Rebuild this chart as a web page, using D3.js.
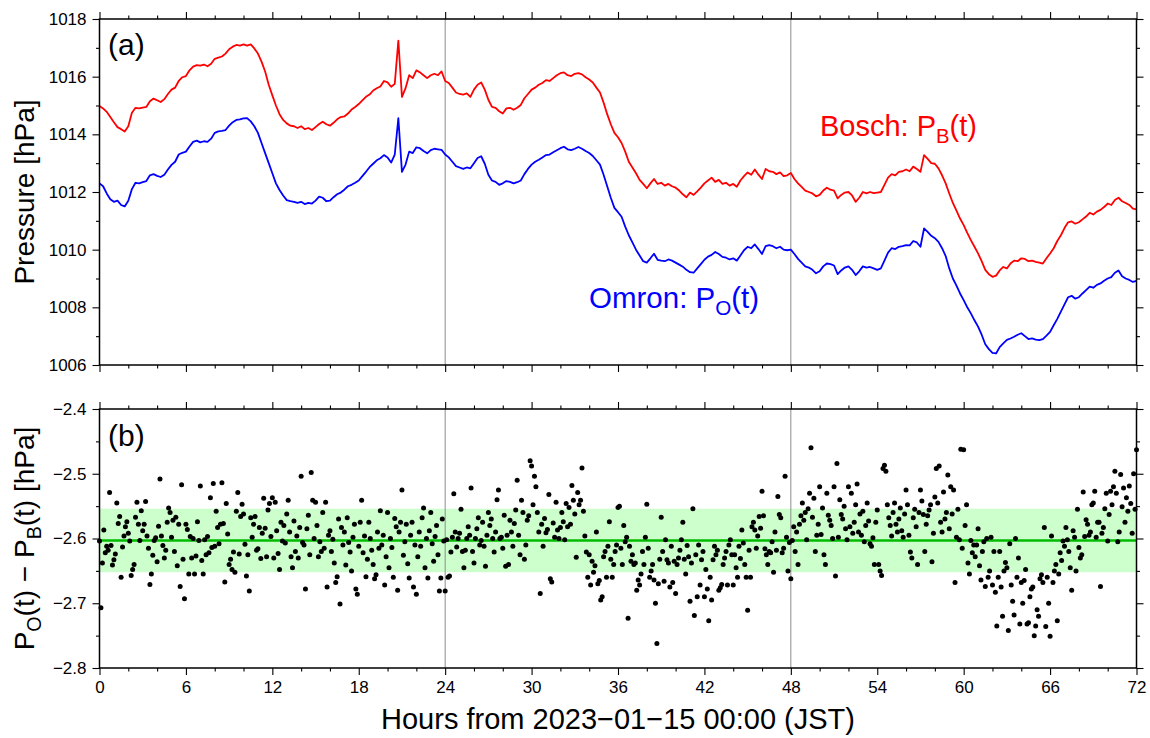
<!DOCTYPE html>
<html><head><meta charset="utf-8">
<script src="https://cdn.jsdelivr.net/npm/d3@7"></script>
<style>
html,body{margin:0;padding:0;background:#fff;}
svg{display:block;font-family:"Liberation Sans",Arial,Helvetica,sans-serif;}
</style></head><body>
<svg id="chart" width="1150" height="738"></svg>
<script>
// ---------------- DATA ----------------
const lineStepHours = 0.25;   // sampling interval of the pressure curves
const diffStepHours = 0.1;    // sampling interval of the difference points

const boschPressure = [
1014.98,1014.90,1014.78,1014.60,1014.42,1014.25,1014.18,1014.10,
1014.28,1014.75,1014.92,1014.90,1014.93,1014.95,1015.15,1015.24,
1015.18,1015.12,1015.22,1015.40,1015.55,1015.62,1015.85,1015.98,
1016.02,1016.22,1016.35,1016.40,1016.38,1016.42,1016.36,1016.45,
1016.62,1016.66,1016.70,1016.80,1016.95,1017.04,1017.10,1017.08,
1017.12,1017.08,1017.12,1016.98,1016.80,1016.52,1016.18,1015.72,
1015.35,1015.00,1014.70,1014.50,1014.38,1014.30,1014.28,1014.22,
1014.28,1014.18,1014.22,1014.15,1014.25,1014.36,1014.44,1014.35,
1014.30,1014.40,1014.52,1014.60,1014.62,1014.72,1014.86,1014.95,
1015.05,1015.18,1015.30,1015.38,1015.52,1015.60,1015.66,1015.85,
1015.80,1015.65,1015.75,1017.25,1015.30,1015.60,1016.05,1015.95,
1016.22,1016.15,1016.05,1015.95,1016.05,1016.10,1016.05,1016.18,
1015.85,1015.78,1015.62,1015.45,1015.40,1015.38,1015.42,1015.30,
1015.55,1015.72,1015.80,1015.55,1015.20,1014.95,1014.92,1014.80,
1014.72,1014.90,1014.92,1014.85,1014.92,1015.02,1015.25,1015.40,
1015.55,1015.62,1015.72,1015.78,1015.88,1015.85,1015.95,1016.05,
1016.12,1016.15,1016.05,1016.02,1016.10,1016.12,1016.08,1015.98,
1015.90,1015.80,1015.62,1015.45,1015.10,1014.70,1014.35,1014.05,
1013.90,1013.70,1013.40,1013.05,1012.85,1012.65,1012.42,1012.28,
1012.13,1012.30,1012.45,1012.28,1012.32,1012.22,1012.28,1012.20,
1012.15,1012.05,1011.92,1011.82,1011.98,1011.90,1012.02,1012.15,
1012.30,1012.40,1012.50,1012.35,1012.42,1012.28,1012.32,1012.22,
1012.28,1012.18,1012.40,1012.55,1012.68,1012.60,1012.78,1012.60,
1012.45,1012.80,1012.72,1012.70,1012.62,1012.68,1012.55,1012.58,
1012.66,1012.45,1012.30,1012.18,1012.05,1012.00,1011.95,1011.85,
1011.90,1012.05,1012.15,1012.08,1012.05,1011.78,1011.90,1011.98,
1012.00,1011.88,1011.66,1011.80,1012.00,1011.95,1012.00,1011.96,
1011.98,1012.00,1012.25,1012.50,1012.62,1012.58,1012.70,1012.72,
1012.78,1012.72,1012.88,1012.80,1012.70,1013.28,1013.15,1013.00,
1012.98,1012.82,1012.58,1012.30,1011.95,1011.62,1011.35,1011.08,
1010.85,1010.58,1010.33,1010.10,1009.87,1009.60,1009.30,1009.15,
1009.06,1009.10,1009.28,1009.40,1009.35,1009.52,1009.62,1009.60,
1009.70,1009.68,1009.60,1009.62,1009.58,1009.55,1009.52,1009.70,
1009.87,1010.05,1010.30,1010.50,1010.75,1010.95,1010.98,1010.90,
1010.95,1011.05,1011.15,1011.28,1011.22,1011.32,1011.38,1011.48,
1011.60,1011.55,1011.72,1011.80,1011.68,1011.62,1011.55,1011.42,
1011.40
];

const omronPressure = [
1012.30,1012.20,1011.95,1011.75,1011.66,1011.70,1011.55,1011.50,
1011.70,1012.10,1012.32,1012.30,1012.34,1012.38,1012.58,1012.62,
1012.56,1012.52,1012.60,1012.78,1012.94,1013.05,1013.30,1013.36,
1013.40,1013.58,1013.74,1013.78,1013.72,1013.76,1013.74,1013.85,
1014.05,1014.10,1014.12,1014.15,1014.30,1014.42,1014.50,1014.52,
1014.55,1014.56,1014.45,1014.28,1014.05,1013.70,1013.35,1013.00,
1012.65,1012.30,1012.07,1011.88,1011.72,1011.68,1011.66,1011.62,
1011.66,1011.58,1011.62,1011.60,1011.70,1011.84,1011.80,1011.68,
1011.70,1011.82,1011.92,1011.98,1012.08,1012.20,1012.25,1012.32,
1012.40,1012.55,1012.70,1012.86,1012.98,1013.10,1013.17,1013.28,
1013.20,1013.02,1013.30,1014.56,1012.70,1012.95,1013.40,1013.35,
1013.55,1013.52,1013.42,1013.34,1013.45,1013.50,1013.48,1013.46,
1013.30,1013.20,1013.05,1012.90,1012.85,1012.80,1012.85,1012.82,
1013.00,1013.18,1013.24,1012.98,1012.60,1012.40,1012.35,1012.25,
1012.30,1012.38,1012.35,1012.30,1012.34,1012.40,1012.62,1012.80,
1012.95,1013.05,1013.12,1013.20,1013.28,1013.30,1013.38,1013.45,
1013.52,1013.57,1013.48,1013.45,1013.50,1013.56,1013.50,1013.42,
1013.35,1013.25,1013.10,1012.95,1012.60,1012.20,1011.80,1011.45,
1011.30,1011.14,1010.80,1010.50,1010.25,1010.00,1009.80,1009.60,
1009.55,1009.70,1009.86,1009.65,1009.62,1009.60,1009.66,1009.62,
1009.55,1009.48,1009.41,1009.30,1009.22,1009.20,1009.35,1009.50,
1009.65,1009.76,1009.82,1009.92,1009.85,1009.75,1009.72,1009.66,
1009.70,1009.62,1009.80,1009.98,1010.10,1010.05,1010.18,1010.02,
1009.85,1010.12,1010.16,1010.12,1010.05,1010.10,1010.00,1009.98,
1010.00,1009.85,1009.68,1009.55,1009.42,1009.38,1009.30,1009.18,
1009.25,1009.42,1009.52,1009.50,1009.45,1009.15,1009.28,1009.38,
1009.42,1009.30,1009.12,1009.25,1009.42,1009.38,1009.40,1009.35,
1009.30,1009.35,1009.62,1009.90,1010.05,1010.02,1010.10,1010.12,
1010.16,1010.15,1010.30,1010.25,1010.10,1010.74,1010.62,1010.48,
1010.40,1010.27,1010.05,1009.78,1009.35,1009.00,1008.75,1008.48,
1008.25,1008.00,1007.79,1007.55,1007.33,1007.05,1006.72,1006.55,
1006.42,1006.40,1006.62,1006.75,1006.87,1006.92,1006.98,1007.05,
1007.10,1007.00,1006.90,1006.92,1006.88,1006.86,1006.90,1007.02,
1007.15,1007.38,1007.60,1007.85,1008.10,1008.35,1008.40,1008.30,
1008.35,1008.48,1008.60,1008.72,1008.68,1008.78,1008.83,1008.92,
1009.00,1009.05,1009.20,1009.28,1009.08,1009.00,1008.95,1008.88,
1008.92
];

const pressureDiff = [
-2.604,-2.707,-2.638,-2.587,-2.622,-2.612,-2.618,-2.529,-2.611,-2.641,
-2.633,-2.624,-2.545,-2.577,-2.566,-2.660,-2.613,-2.596,-2.582,-2.574,
-2.592,-2.604,-2.657,-2.648,-2.640,-2.567,-2.544,-2.578,-2.603,-2.557,
-2.588,-2.578,-2.543,-2.596,-2.615,-2.671,-2.655,-2.626,-2.603,-2.599,
-2.636,-2.581,-2.508,-2.596,-2.611,-2.630,-2.618,-2.575,-2.553,-2.560,
-2.598,-2.572,-2.620,-2.567,-2.642,-2.578,-2.674,-2.517,-2.632,-2.693,
-2.578,-2.586,-2.655,-2.597,-2.630,-2.600,-2.655,-2.627,-2.574,-2.603,
-2.519,-2.634,-2.655,-2.602,-2.625,-2.597,-2.622,-2.537,-2.614,-2.515,
-2.612,-2.558,-2.583,-2.608,-2.578,-2.514,-2.577,-2.667,-2.546,-2.593,
-2.640,-2.632,-2.648,-2.621,-2.652,-2.558,-2.529,-2.624,-2.566,-2.547,
-2.562,-2.609,-2.658,-2.625,-2.681,-2.568,-2.598,-2.578,-2.566,-2.618,
-2.616,-2.583,-2.631,-2.592,-2.538,-2.584,-2.628,-2.556,-2.546,-2.597,
-2.537,-2.630,-2.544,-2.588,-2.623,-2.648,-2.575,-2.604,-2.580,-2.607,
-2.562,-2.541,-2.590,-2.628,-2.645,-2.573,-2.620,-2.596,-2.630,-2.583,
-2.504,-2.606,-2.610,-2.678,-2.585,-2.564,-2.625,-2.498,-2.541,-2.600,
-2.544,-2.580,-2.628,-2.605,-2.620,-2.560,-2.615,-2.544,-2.675,-2.595,
-2.588,-2.620,-2.601,-2.638,-2.668,-2.659,-2.570,-2.701,-2.583,-2.610,
-2.590,-2.641,-2.568,-2.606,-2.621,-2.650,-2.598,-2.578,-2.678,-2.686,
-2.612,-2.575,-2.541,-2.622,-2.596,-2.659,-2.632,-2.575,-2.600,-2.618,
-2.640,-2.662,-2.656,-2.590,-2.615,-2.557,-2.610,-2.595,-2.672,-2.628,
-2.560,-2.645,-2.600,-2.614,-2.660,-2.569,-2.582,-2.680,-2.590,-2.575,
-2.525,-2.626,-2.605,-2.578,-2.639,-2.661,-2.595,-2.575,-2.675,-2.610,
-2.686,-2.628,-2.590,-2.612,-2.568,-2.553,-2.645,-2.600,-2.661,-2.588,
-2.560,-2.608,-2.635,-2.597,-2.580,-2.625,-2.681,-2.661,-2.570,-2.604,
-2.681,-2.602,-2.660,-2.658,-2.621,-2.598,-2.531,-2.590,-2.613,-2.600,
-2.592,-2.555,-2.620,-2.645,-2.618,-2.600,-2.582,-2.595,-2.522,-2.620,
-2.638,-2.600,-2.585,-2.568,-2.610,-2.603,-2.575,-2.612,-2.643,-2.595,
-2.560,-2.580,-2.570,-2.600,-2.621,-2.590,-2.540,-2.525,-2.600,-2.598,
-2.615,-2.564,-2.643,-2.595,-2.640,-2.572,-2.590,-2.612,-2.577,-2.556,
-2.510,-2.595,-2.625,-2.541,-2.560,-2.632,-2.610,-2.572,-2.565,-2.480,
-2.488,-2.548,-2.504,-2.520,-2.560,-2.590,-2.685,-2.578,-2.612,-2.569,
-2.591,-2.586,-2.532,-2.662,-2.667,-2.576,-2.598,-2.544,-2.587,-2.600,
-2.583,-2.560,-2.574,-2.602,-2.546,-2.582,-2.552,-2.578,-2.518,-2.541,
-2.562,-2.629,-2.529,-2.548,-2.541,-2.491,-2.558,-2.596,-2.621,-2.660,
-2.625,-2.672,-2.635,-2.652,-2.642,-2.590,-2.670,-2.665,-2.695,-2.690,
-2.628,-2.620,-2.660,-2.612,-2.574,-2.632,-2.660,-2.640,-2.620,-2.610,
-2.552,-2.550,-2.615,-2.640,-2.580,-2.605,-2.598,-2.723,-2.612,-2.635,
-2.625,-2.640,-2.638,-2.680,-2.664,-2.672,-2.655,-2.620,-2.640,-2.598,
-2.547,-2.615,-2.660,-2.650,-2.640,-2.664,-2.700,-2.762,-2.670,-2.632,
-2.567,-2.620,-2.666,-2.602,-2.633,-2.638,-2.675,-2.612,-2.668,-2.635,
-2.685,-2.640,-2.630,-2.618,-2.602,-2.575,-2.632,-2.655,-2.611,-2.628,
-2.697,-2.638,-2.554,-2.719,-2.625,-2.690,-2.610,-2.672,-2.633,-2.620,
-2.690,-2.648,-2.678,-2.727,-2.660,-2.695,-2.633,-2.612,-2.625,-2.618,
-2.680,-2.676,-2.671,-2.640,-2.630,-2.620,-2.672,-2.610,-2.602,-2.625,
-2.672,-2.625,-2.645,-2.660,-2.612,-2.631,-2.587,-2.607,-2.640,-2.660,
-2.711,-2.618,-2.660,-2.582,-2.575,-2.587,-2.615,-2.596,-2.566,-2.584,
-2.527,-2.565,-2.616,-2.625,-2.640,-2.620,-2.622,-2.605,-2.652,-2.590,
-2.618,-2.535,-2.563,-2.568,-2.622,-2.615,-2.504,-2.598,-2.650,-2.606,
-2.662,-2.603,-2.582,-2.620,-2.590,-2.640,-2.578,-2.565,-2.545,-2.572,
-2.560,-2.602,-2.554,-2.530,-2.460,-2.567,-2.538,-2.620,-2.595,-2.578,
-2.520,-2.594,-2.553,-2.625,-2.640,-2.530,-2.564,-2.572,-2.580,-2.600,
-2.520,-2.658,-2.484,-2.598,-2.540,-2.563,-2.570,-2.550,-2.585,-2.602,
-2.520,-2.582,-2.530,-2.592,-2.575,-2.548,-2.516,-2.590,-2.562,-2.595,
-2.558,-2.605,-2.580,-2.545,-2.573,-2.608,-2.612,-2.599,-2.640,-2.575,
-2.556,-2.640,-2.650,-2.657,-2.492,-2.487,-2.496,-2.548,-2.568,-2.580,
-2.596,-2.560,-2.545,-2.578,-2.590,-2.570,-2.553,-2.588,-2.598,-2.562,
-2.525,-2.548,-2.595,-2.621,-2.630,-2.568,-2.555,-2.582,-2.640,-2.560,
-2.525,-2.542,-2.563,-2.620,-2.578,-2.565,-2.556,-2.548,-2.636,-2.592,
-2.536,-2.492,-2.545,-2.488,-2.575,-2.590,-2.528,-2.570,-2.560,-2.502,
-2.585,-2.520,-2.562,-2.525,-2.668,-2.598,-2.555,-2.602,-2.462,-2.615,
-2.463,-2.580,-2.548,-2.638,-2.655,-2.603,-2.622,-2.610,-2.628,-2.610,
-2.585,-2.642,-2.664,-2.620,-2.605,-2.674,-2.600,-2.660,-2.650,-2.598,
-2.672,-2.620,-2.683,-2.735,-2.660,-2.620,-2.675,-2.720,-2.650,-2.637,
-2.645,-2.742,-2.608,-2.672,-2.697,-2.718,-2.600,-2.660,-2.630,-2.732,
-2.668,-2.700,-2.665,-2.648,-2.732,-2.730,-2.690,-2.678,-2.675,-2.750,
-2.735,-2.710,-2.720,-2.662,-2.656,-2.668,-2.583,-2.736,-2.660,-2.700,
-2.751,-2.596,-2.668,-2.650,-2.640,-2.727,-2.655,-2.622,-2.634,-2.604,
-2.612,-2.583,-2.602,-2.620,-2.645,-2.680,-2.588,-2.598,-2.650,-2.555,
-2.614,-2.630,-2.625,-2.528,-2.597,-2.571,-2.578,-2.595,-2.590,-2.548,
-2.545,-2.527,-2.598,-2.575,-2.575,-2.674,-2.592,-2.583,-2.554,-2.530,
-2.604,-2.563,-2.527,-2.548,-2.520,-2.496,-2.530,-2.605,-2.590,-2.501,
-2.551,-2.522,-2.575,-2.537,-2.558,-2.519,-2.546,-2.592,-2.500,-2.555,
-2.463
];

const diffMean = -2.603;
const diffSigma = 0.049;

const xMajorTicks = [0,6,12,18,24,30,36,42,48,54,60,66,72];
const xMinorTicks = [2,4,8,10,14,16,20,22,26,28,32,34,38,40,44,46,50,52,56,58,62,64,68,70];
const dayLines = [24,48];
const yMajorTicksA = [1006,1008,1010,1012,1014,1016,1018];
const yMinorTicksA = [1007,1009,1011,1013,1015,1017];
const yMajorTicksB = [-2.8,-2.7,-2.6,-2.5,-2.4];
const yMinorTicksB = [-2.75,-2.65,-2.55,-2.45];

// ---------------- LAYOUT ----------------
const L = 99.5, R = 1136.5;
const aTop = 19, aBot = 365, bTop = 409, bBot = 668;
const FONT = '"Liberation Sans",Arial,Helvetica,sans-serif';

const x = d3.scaleLinear().domain([0,72]).range([L,R]);
const yA = d3.scaleLinear().domain([1006,1018]).range([aBot,aTop]);
const yB = d3.scaleLinear().domain([-2.8,-2.4]).range([bBot,bTop]);

const svg = d3.select('#chart');

// ---------- panel b background band ----------
svg.append('rect')
  .attr('x', L).attr('width', R - L)
  .attr('y', yB(diffMean + diffSigma))
  .attr('height', yB(diffMean - diffSigma) - yB(diffMean + diffSigma))
  .attr('fill', '#ccffcc');

// ---------- day separators ----------
dayLines.forEach(h => {
  [[aTop,aBot],[bTop,bBot]].forEach(([t,b]) => {
    svg.append('line').attr('x1', x(h)).attr('x2', x(h)).attr('y1', t).attr('y2', b)
      .attr('stroke', '#8c8c8c').attr('stroke-width', 1);
  });
});

// ---------- mean line ----------
svg.append('line').attr('x1', L).attr('x2', R)
  .attr('y1', yB(diffMean)).attr('y2', yB(diffMean))
  .attr('stroke', '#00bb00').attr('stroke-width', 2.6);

// ---------- scatter ----------
svg.append('g').selectAll('circle').data(pressureDiff).join('circle')
  .attr('cx', (d,i) => x(i * diffStepHours))
  .attr('cy', d => yB(d))
  .attr('r', 2.5)
  .attr('fill', '#000');

// ---------- pressure lines ----------
const lineA = d3.line().x((d,i) => x(i * lineStepHours)).y(d => yA(d));
svg.append('path').datum(boschPressure).attr('d', lineA)
  .attr('fill','none').attr('stroke','#ff0000').attr('stroke-width',1.8).attr('stroke-linejoin','round');
svg.append('path').datum(omronPressure).attr('d', lineA)
  .attr('fill','none').attr('stroke','#0000ff').attr('stroke-width',1.8).attr('stroke-linejoin','round');

// ---------- axes ----------
const MAJ = 7, MIN = 3.5;
function addAxis(axisFn, scale, vals, size, fmt, tx, ty) {
  const g = svg.append('g').attr('transform', `translate(${tx},${ty})`)
    .call(axisFn(scale).tickValues(vals).tickSize(size).tickSizeOuter(0).tickPadding(6).tickFormat(fmt));
  g.select('.domain').remove();
  g.selectAll('.tick line').attr('stroke','#000').attr('stroke-width',1.1);
  if (fmt) {
    g.selectAll('.tick text').attr('fill','#000').style('font-size','17px').style('font-family', FONT);
  } else {
    g.selectAll('.tick text').remove();
  }
  return g;
}
const fmtB = d3.format('.1f');
// panel a
addAxis(d3.axisLeft, yA, yMajorTicksA, MAJ, d3.format('d'), L, 0);
addAxis(d3.axisLeft, yA, yMinorTicksA, MIN, null, L, 0);
addAxis(d3.axisRight, yA, yMajorTicksA, MAJ, null, R, 0);
addAxis(d3.axisRight, yA, yMinorTicksA, MIN, null, R, 0);
addAxis(d3.axisTop, x, xMajorTicks, MAJ, null, 0, aTop);
addAxis(d3.axisTop, x, xMinorTicks, MIN, null, 0, aTop);
addAxis(d3.axisBottom, x, xMajorTicks, MAJ, null, 0, aBot);
addAxis(d3.axisBottom, x, xMinorTicks, MIN, null, 0, aBot);
// panel b
addAxis(d3.axisLeft, yB, yMajorTicksB, MAJ, fmtB, L, 0);
addAxis(d3.axisLeft, yB, yMinorTicksB, MIN, null, L, 0);
addAxis(d3.axisRight, yB, yMajorTicksB, MAJ, null, R, 0);
addAxis(d3.axisRight, yB, yMinorTicksB, MIN, null, R, 0);
addAxis(d3.axisTop, x, xMajorTicks, MAJ, null, 0, bTop);
addAxis(d3.axisTop, x, xMinorTicks, MIN, null, 0, bTop);
addAxis(d3.axisBottom, x, xMajorTicks, MAJ, d3.format('d'), 0, bBot);
addAxis(d3.axisBottom, x, xMinorTicks, MIN, null, 0, bBot);

// frames
[[aTop,aBot],[bTop,bBot]].forEach(([t,b]) => {
  svg.append('rect').attr('x', L).attr('y', t).attr('width', R - L).attr('height', b - t)
    .attr('fill','none').attr('stroke','#000').attr('stroke-width',1.5);
});

// ---------- text ----------
// parts: strings are normal text, {sub:'X'} objects are subscripts
function subText(parent, parts, size, color) {
  const t = parent.append('text').attr('fill', color).style('font-size', size + 'px').style('font-family', FONT);
  const shift = size * 0.25;
  let lowered = false;
  parts.forEach(p => {
    if (typeof p === 'string') {
      const s = t.append('tspan').text(p);
      if (lowered) { s.attr('dy', -shift); lowered = false; }
    } else {
      t.append('tspan').attr('dy', shift).style('font-size', (size*0.7)+'px').text(p.sub);
      lowered = true;
    }
  });
  return t;
}

svg.append('text').attr('x', 108).attr('y', 55).attr('fill','#000')
  .style('font-size','30px').style('font-family',FONT).text('(a)');
svg.append('text').attr('x', 108).attr('y', 446).attr('fill','#000')
  .style('font-size','30px').style('font-family',FONT).text('(b)');

subText(svg, ['Bosch: P', {sub:'B'}, '(t)'], 29, '#ff0000').attr('x', 820).attr('y', 136);
subText(svg, ['Omron: P', {sub:'O'}, '(t)'], 29.5, '#0000ff').attr('x', 589).attr('y', 308);

svg.append('text').attr('transform', `translate(34,${(aTop+aBot)/2}) rotate(-90)`)
  .attr('text-anchor','middle').attr('fill','#000')
  .style('font-size','28px').style('font-family',FONT).text('Pressure [hPa]');

subText(svg.append('g').attr('transform', `translate(34,${(bTop+bBot)/2}) rotate(-90)`),
  ['P', {sub:'O'}, '(t) \u2212 P', {sub:'B'}, '(t) [hPa]'], 28, '#000').attr('text-anchor','middle');

svg.append('text').attr('x', (L+R)/2).attr('y', 729).attr('text-anchor','middle').attr('fill','#000')
  .style('font-size','29px').style('font-family',FONT).text('Hours from 2023\u221201\u221215 00:00 (JST)');
</script>
</body></html>
